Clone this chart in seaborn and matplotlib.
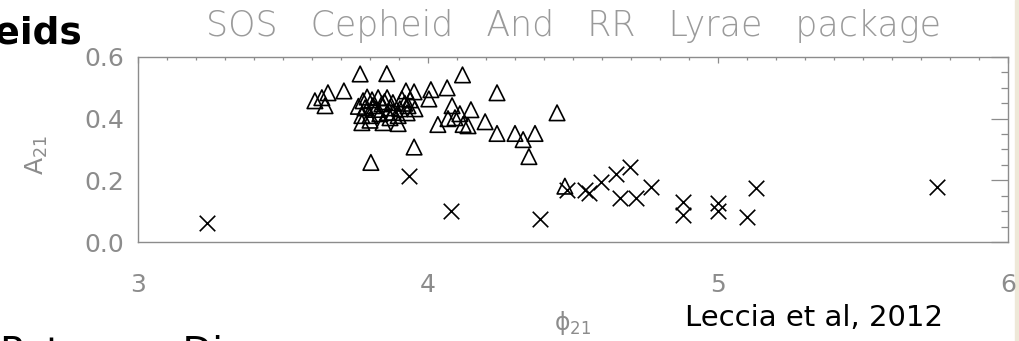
import matplotlib
matplotlib.use("Agg")
import matplotlib.pyplot as plt
import seaborn as sns
import pandas as pd
from matplotlib.ticker import MultipleLocator
from matplotlib.patches import Rectangle

# Cepheids (triangles)
cep_phi21 = [3.610, 3.634, 3.645, 3.655, 3.710, 3.766, 3.858, 4.119,
             3.776, 3.807, 3.828, 3.859, 3.879, 3.910, 3.938, 3.783,
             3.810, 3.841, 3.869, 3.903, 3.931, 3.955, 3.772, 3.800,
             3.834, 3.869, 3.897, 3.928, 3.772, 3.845, 3.897, 3.924,
             3.952, 4.010, 4.066, 4.003, 4.238, 4.445, 4.083, 4.148,
             4.034, 4.069, 4.093, 4.110, 4.121, 4.138, 4.197, 4.238,
             4.300, 4.328, 4.369, 4.348, 3.952, 3.803, 4.472, 3.790,
             3.850, 3.820, 3.880, 3.760, 3.920, 3.800, 3.860]
cep_a21 = [0.458, 0.468, 0.442, 0.484, 0.490, 0.545, 0.546, 0.542,
           0.458, 0.461, 0.468, 0.468, 0.452, 0.464, 0.461, 0.435,
           0.442, 0.448, 0.435, 0.432, 0.442, 0.432, 0.410, 0.410,
           0.416, 0.403, 0.410, 0.419, 0.387, 0.387, 0.384, 0.490,
           0.487, 0.494, 0.500, 0.464, 0.484, 0.419, 0.442, 0.429,
           0.381, 0.400, 0.403, 0.416, 0.381, 0.377, 0.390, 0.352,
           0.352, 0.332, 0.352, 0.277, 0.308, 0.258, 0.181, 0.470,
           0.455, 0.430, 0.420, 0.440, 0.450, 0.395, 0.420]

# RR Lyrae (crosses)
rrl_phi21 = [3.238, 3.934, 4.079, 4.386, 4.479, 4.540, 4.555, 4.597,
             4.648, 4.697, 4.662, 4.717, 4.769, 4.879, 4.879, 5.000,
             5.000, 5.100, 5.131, 5.755]
rrl_a21 = [0.061, 0.213, 0.100, 0.074, 0.168, 0.170, 0.160, 0.193,
           0.222, 0.242, 0.142, 0.142, 0.178, 0.129, 0.087, 0.126,
           0.100, 0.081, 0.174, 0.177]

x_ticks = [3, 4, 5, 6]
y_ticks = [0.0, 0.2, 0.4, 0.6]

sns.set_style("white")
plt.rcParams["font.family"] = ["DejaVu Sans"]

gray = "#8c8c8c"

cep = pd.DataFrame({"phi21": cep_phi21, "A21": cep_a21})
rrl = pd.DataFrame({"phi21": rrl_phi21, "A21": rrl_a21})

fig = plt.figure(figsize=(10.19, 3.41), dpi=100)
fig.patches.append(Rectangle((1015 / 1019, 0), 4 / 1019, 1,
                             transform=fig.transFigure, color="#eee8d8",
                             zorder=-1))
ax = fig.add_axes([138 / 1019, 1 - 242 / 341, 870 / 1019, 185 / 341])

sns.scatterplot(data=cep, x="phi21", y="A21", ax=ax, marker="^", s=125,
                facecolor="none", edgecolor="black", linewidth=1.2)
sns.scatterplot(data=rrl, x="phi21", y="A21", ax=ax, marker="x", s=125,
                color="black", linewidth=1.2)

ax.set_xlim(3, 6)
ax.set_ylim(0, 0.6)
ax.set_xticks(x_ticks)
ax.set_xticklabels([str(v) for v in x_ticks])
ax.set_yticks(y_ticks)
ax.set_yticklabels([f"{v:.1f}" for v in y_ticks])
ax.xaxis.set_minor_locator(MultipleLocator(0.1))
ax.yaxis.set_minor_locator(MultipleLocator(0.05))

for sp in ax.spines.values():
    sp.set_color(gray)
    sp.set_linewidth(1.0)

ax.tick_params(which="both", direction="in", top=True, right=True,
               color=gray, width=0.9, labelcolor=gray)
ax.tick_params(axis="y", which="major", length=12, labelsize=18, pad=10)
ax.tick_params(axis="y", which="minor", length=5)
ax.tick_params(axis="x", which="major", length=4, labelsize=18, pad=22)
ax.tick_params(axis="x", which="minor", length=2.5)

ax.set_xlabel(r"$\mathregular{\phi_{21}}$", color=gray, fontsize=17)
ax.xaxis.set_label_coords(0.5, -0.36)
ax.set_ylabel(r"$\mathregular{A_{21}}$", color=gray, fontsize=18)
ax.yaxis.set_label_coords(-0.101, 0.47)

fig.text(573 / 1019, 1 - 26 / 341, "SOS   Cepheid   And   RR   Lyrae   package",
         ha="center", va="center", color="#9a9a9a", fontsize=25,
         fontweight="light")

fig.text(82 / 1019, 1 - 34 / 341, "Cepheids", ha="right", va="center",
         color="black", fontsize=27, fontweight="bold")

fig.text(685 / 1019, 1 - 318 / 341, "Leccia et al, 2012", ha="left",
         va="center", color="black", fontsize=21)

fig.text(0.0, -0.07, "Petersen Diagram", ha="left", va="baseline",
         color="black", fontsize=28)

fig.savefig("out.png", dpi=100)
